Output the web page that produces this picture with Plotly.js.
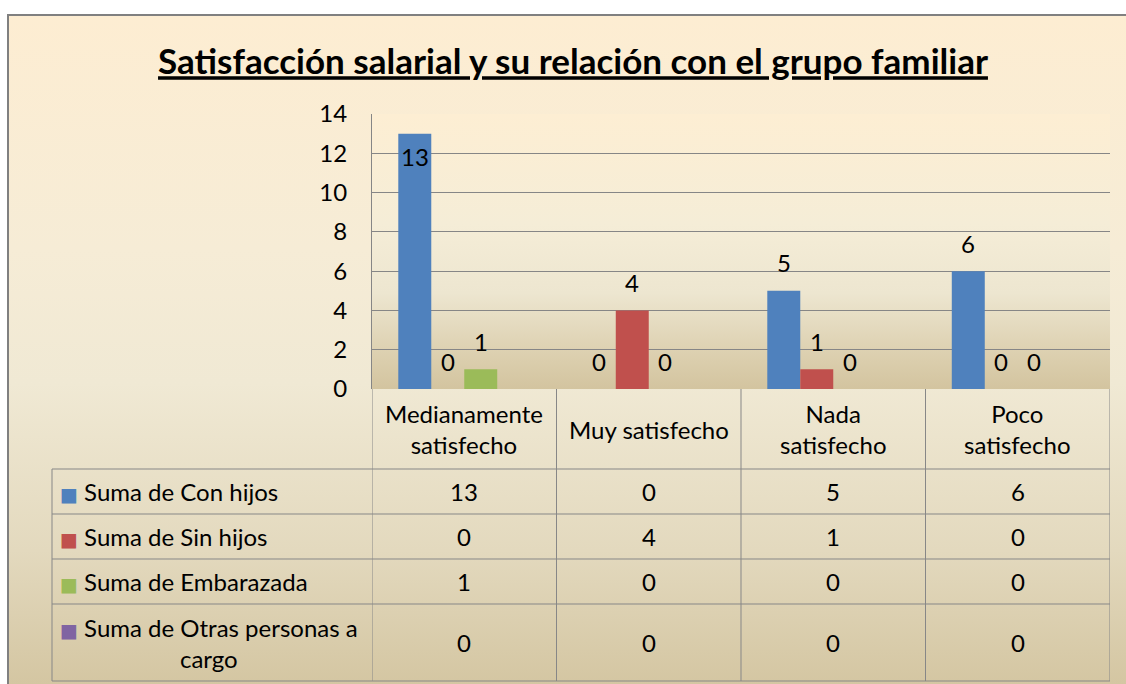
<!DOCTYPE html>
<html>
<head>
<meta charset="utf-8">
<script src="https://cdn.plot.ly/plotly-3.0.1.min.js"></script>
<style>
  html, body { margin: 0; padding: 0; background: #ffffff; width: 1126px; height: 684px; overflow: hidden; }
  #frame { position: absolute; left: 7px; top: 14px; width: 1119px; height: 670px;
    border-left: 2px solid #808080; border-top: 2px solid #808080; box-sizing: border-box;
    background: linear-gradient(to bottom, #FDEDD2 0%, #F6ECD6 35%, #F0E9D4 55%, #E3D9BE 80%, #D4C6A2 100%); }
  #plotbg { position: absolute; left: 372px; top: 114px; width: 738px; height: 275px;
    background: linear-gradient(to bottom, #FDEED3 0%, #F5EDD7 40%, #EDE6D0 65%, #DED2B3 85%, #D3C49F 100%); }
  #chart { position: absolute; left: 0; top: 0; width: 1126px; height: 684px; }
</style>
</head>
<body>
<div id="frame"></div>
<div id="plotbg"></div>
<div id="chart"></div>
<script>
// ---- data ----
var categories = ['Medianamente satisfecho', 'Muy satisfecho', 'Nada satisfecho', 'Poco satisfecho'];
var categoryLabels = ['Medianamente<br>satisfecho', 'Muy satisfecho', 'Nada<br>satisfecho', 'Poco<br>satisfecho'];
var seriesNames = ['Suma de Con hijos', 'Suma de Sin hijos', 'Suma de Embarazada', 'Suma de Otras personas a cargo'];
var seriesTableNames = ['Suma de Con hijos', 'Suma de Sin hijos', 'Suma de Embarazada', 'Suma de Otras personas a<br>cargo'];
var conHijos = [13, 0, 5, 6];
var sinHijos = [0, 4, 1, 0];
var embarazada = [1, 0, 0, 0];
var otrasPersonas = [0, 0, 0, 0];
var seriesValues = [conHijos, sinHijos, embarazada, otrasPersonas];
var seriesColors = ['#4F81BD', '#C0504D', '#9BBB59', '#8064A2'];
var showDataLabels = [true, true, true, false];
var yTicks = [0, 2, 4, 6, 8, 10, 12, 14];

// ---- layout constants ----
var FONT = 'Lato, "Open Sans", sans-serif';
var FS = 24;
var W = 1126, H = 684;
var M = { l: 52, r: 16, t: 114, b: 3 };
var plotH = H - M.t - M.b;             // 567
var plotW = W - M.l - M.r;             // 1058
var plotTopPx = 389 - M.t;             // chart part height in px (275)
var yDomainStart = 1 - plotTopPx / plotH;
var xDomainStart = (372 - M.l) / plotW;
// table row edges (px from the top of the page): header, 4 series rows
var rowEdgesPx = [389, 469, 514, 559, 604, 681];
function pyToPaper(py) { return (H - M.b - py) / plotH; }
var bargap = 0.285;
var gridCol = '#878787';

var traces = seriesValues.map(function (vals, j) {
  return {
    type: 'bar', x: categories, y: vals, name: seriesNames[j],
    marker: { color: seriesColors[j], line: { width: 0 } },
    hoverinfo: 'x+y+name', showlegend: false
  };
});

var annotations = [];
var shapes = [];

// data labels on bars
var barW = (1 - bargap) / seriesValues.length;
seriesValues.forEach(function (vals, j) {
  if (!showDataLabels[j]) return;
  vals.forEach(function (v, i) {
    var inside = v >= 12.5;
    annotations.push({
      x: i + (j - (seriesValues.length - 1) / 2) * barW, y: v, xref: 'x', yref: 'y',
      text: String(v), showarrow: false, yanchor: 'middle',
      yshift: inside ? -23 : 28,
      font: { family: FONT, size: FS, color: '#000000' }
    });
  });
});

// data table: header (category labels)
var rowCenter = function (r) { return pyToPaper((rowEdgesPx[r] + rowEdgesPx[r + 1]) / 2); };
categoryLabels.forEach(function (lab, i) {
  annotations.push({
    x: i, xref: 'x', y: rowCenter(0), yref: 'paper', text: lab, showarrow: false,
    xanchor: 'center', yanchor: 'middle', align: 'center',
    font: { family: FONT, size: FS, color: '#000000' }
  });
});
// data table: series rows
seriesValues.forEach(function (vals, j) {
  annotations.push({
    x: 6 / plotW, xref: 'paper', y: rowCenter(j + 1), yref: 'paper',
    text: '<span style="color:' + seriesColors[j] + ';font-family:DejaVu Sans;font-size:19px">■</span> ' + seriesTableNames[j],
    showarrow: false, xanchor: 'left', yanchor: 'middle', align: 'center',
    font: { family: FONT, size: FS, color: '#000000' }
  });
  vals.forEach(function (v, i) {
    annotations.push({
      x: i, xref: 'x', y: rowCenter(j + 1), yref: 'paper', text: String(v), showarrow: false,
      xanchor: 'center', yanchor: 'middle',
      font: { family: FONT, size: FS, color: '#000000' }
    });
  });
});
// data table: grid lines
for (var k = 0; k <= categories.length; k++) {
  shapes.push({ type: 'line', xref: 'x', yref: 'paper', x0: k - 0.5, x1: k - 0.5,
    y0: 0, y1: yDomainStart, line: { color: gridCol, width: 1 } });
}
shapes.push({ type: 'line', xref: 'paper', yref: 'paper', x0: 0, x1: 0,
  y0: 0, y1: pyToPaper(rowEdgesPx[1]), line: { color: gridCol, width: 1 } });
rowEdgesPx.forEach(function (py, r) {
  if (r === 0) return;
  shapes.push({ type: 'line', xref: 'paper', yref: 'paper', x0: 0, x1: 1,
    y0: pyToPaper(py), y1: pyToPaper(py), line: { color: gridCol, width: 1 } });
});

var layout = {
  width: W, height: H,
  paper_bgcolor: 'rgba(0,0,0,0)', plot_bgcolor: 'rgba(0,0,0,0)',
  margin: { l: M.l, r: M.r, t: M.t, b: M.b, pad: 0 },
  title: {
    text: '<b><u>Satisfacción salarial y su relación con el grupo familiar</u></b>',
    font: { family: FONT, size: 35, color: '#000000' },
    xref: 'paper', x: (573 - M.l) / plotW, xanchor: 'center',
    yref: 'container', y: 1 - 62 / H, yanchor: 'middle'
  },
  barmode: 'group', bargap: bargap, bargroupgap: 0,
  xaxis: {
    domain: [xDomainStart, 1], type: 'category', showticklabels: false,
    range: [-0.5, categories.length - 0.5],
    showline: false, showgrid: false, zeroline: false, fixedrange: true
  },
  yaxis: {
    domain: [yDomainStart, 1], range: [0, 14], tickvals: yTicks, ticktext: yTicks.map(String),
    showgrid: true, gridcolor: '#868686', gridwidth: 1,
    showline: true, linecolor: '#868686', linewidth: 1, zeroline: false,
    ticks: '', ticklabelstandoff: 19,
    tickfont: { family: FONT, size: FS, color: '#000000' }, fixedrange: true
  },
  annotations: annotations,
  shapes: shapes,
  showlegend: false
};

Plotly.newPlot('chart', traces, layout, { displayModeBar: false, staticPlot: true });
</script>
</body>
</html>
